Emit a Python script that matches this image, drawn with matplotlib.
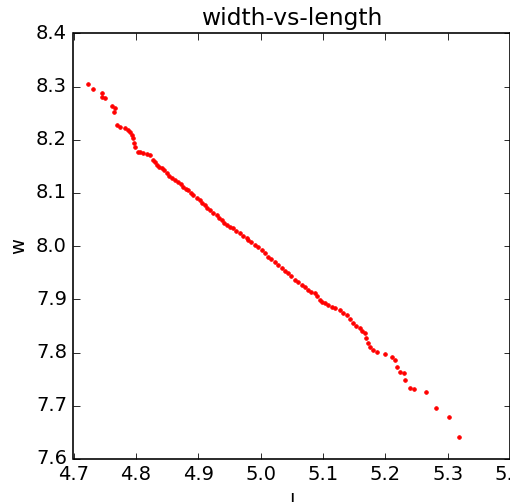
import matplotlib
matplotlib.use("Agg")
from matplotlib import pyplot as plt

# length (l) and width (w) readings, sorted by length
l = [4.7237, 4.7317, 4.7452, 4.7462, 4.7505, 4.7612, 4.7654, 4.7665, 4.7693, 4.7746,
     4.7826, 4.7879, 4.7906, 4.7933, 4.7959, 4.7973, 4.7986, 4.8039, 4.8074, 4.8119,
     4.8175, 4.8227, 4.8279, 4.8307, 4.8334, 4.8371, 4.8414, 4.8451, 4.8494, 4.8531,
     4.8574, 4.8627, 4.8680, 4.8723, 4.8760, 4.8804, 4.8841, 4.8884, 4.8921, 4.8980,
     4.9028, 4.9068, 4.9108, 4.9148, 4.9189, 4.9245, 4.9296, 4.9333, 4.9376, 4.9413,
     4.9456, 4.9509, 4.9562, 4.9613, 4.9670, 4.9726, 4.9777, 4.9803, 4.9854, 4.9910,
     4.9958, 5.0017, 5.0070, 5.0123, 5.0175, 5.0231, 5.0279, 5.0338, 5.0391, 5.0444,
     5.0495, 5.0551, 5.0600, 5.0659, 5.0712, 5.0765, 5.0816, 5.0872, 5.0912, 5.0952,
     5.0992, 5.1032, 5.1081, 5.1140, 5.1201, 5.1273, 5.1321, 5.1380, 5.1433, 5.1486,
     5.1538, 5.1594, 5.1634, 5.1674, 5.1698, 5.1727, 5.1762, 5.1807, 5.1861, 5.1994,
     5.2102, 5.2155, 5.2182, 5.2235, 5.2299, 5.2315, 5.2395, 5.2459, 5.2647, 5.2807,
     5.3016, 5.3176]
w = [8.3042, 8.2948, 8.2872, 8.2809, 8.2778, 8.2634, 8.2527, 8.2591, 8.2277, 8.2245,
     8.2215, 8.2183, 8.2136, 8.2089, 8.2027, 8.1945, 8.1869, 8.1775, 8.1760, 8.1745,
     8.1726, 8.1713, 8.1619, 8.1572, 8.1525, 8.1487, 8.1463, 8.1422, 8.1369, 8.1318,
     8.1275, 8.1234, 8.1211, 8.1168, 8.1117, 8.1083, 8.1055, 8.1008, 8.0961, 8.0914,
     8.0867, 8.0820, 8.0773, 8.0726, 8.0679, 8.0632, 8.0585, 8.0538, 8.0491, 8.0444,
     8.0397, 8.0369, 8.0335, 8.0285, 8.0241, 8.0191, 8.0147, 8.0116, 8.0069, 8.0021,
     7.9975, 7.9928, 7.9862, 7.9802, 7.9758, 7.9708, 7.9646, 7.9584, 7.9533, 7.9490,
     7.9430, 7.9364, 7.9317, 7.9270, 7.9223, 7.9176, 7.9138, 7.9114, 7.9054, 7.8988,
     7.8950, 7.8926, 7.8894, 7.8862, 7.8838, 7.8800, 7.8753, 7.8706, 7.8631, 7.8550,
     7.8499, 7.8456, 7.8405, 7.8362, 7.8273, 7.8174, 7.8105, 7.8048, 7.8016, 7.7973,
     7.7922, 7.7860, 7.7734, 7.7640, 7.7622, 7.7484, 7.7340, 7.7310, 7.7265, 7.6953,
     7.6795, 7.6419]

plt.style.use('classic')

dpi = 117
fig = plt.figure(figsize=(511 / dpi, 502 / dpi), dpi=dpi, facecolor='white')
ax = fig.add_axes([73.5 / 511, 43 / 502, 436.5 / 511, 425.7 / 502])

ax.plot(l, w, 'r.', markeredgecolor='r', markersize=4.5)
ax.set_xlim(4.7, 5.4)
ax.set_ylim(7.6, 8.4)
ax.set_xlabel('l')
ax.set_ylabel('w')
ax.set_title('width-vs-length')

fig.savefig('out.png', dpi=dpi, facecolor='white')
